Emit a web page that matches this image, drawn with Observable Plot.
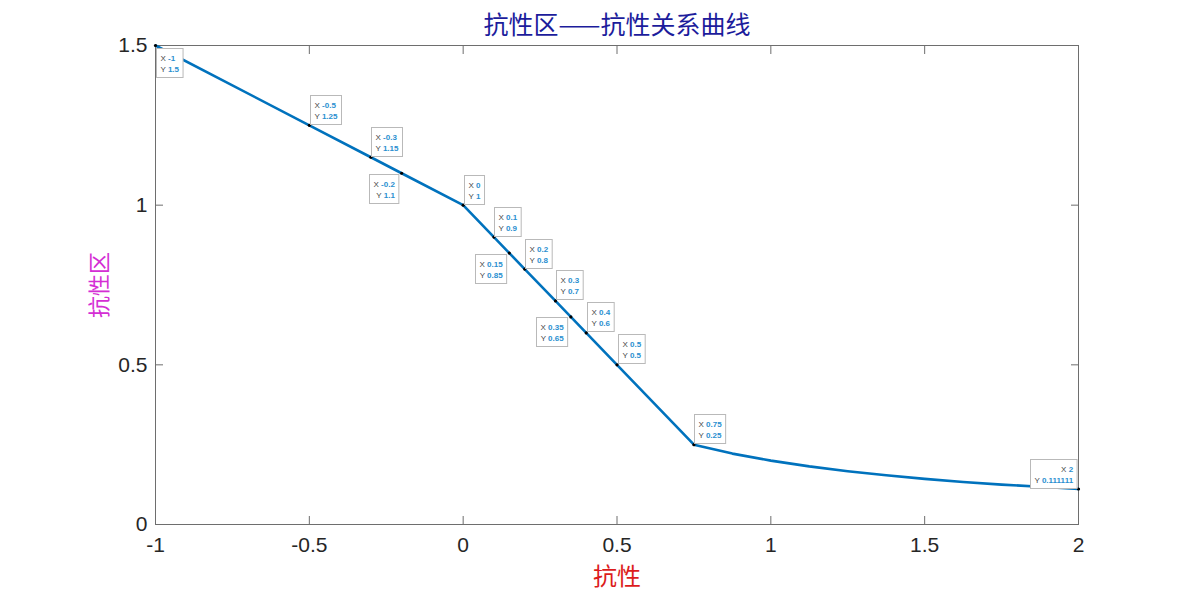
<!DOCTYPE html>
<html><head><meta charset="utf-8">
<script src="https://cdn.jsdelivr.net/npm/d3@7"></script>
<script src="https://cdn.jsdelivr.net/npm/@observablehq/plot@0.6"></script>
<style>body{margin:0;background:#fff}</style>
</head><body><div id="chart"></div>
<script>
// ---- data ----
const lineX = [-1, -0.5, -0.3, -0.2, 0, 0.1, 0.15, 0.2, 0.3, 0.35, 0.4, 0.5, 0.75,
               0.875, 1, 1.125, 1.25, 1.375, 1.5, 1.625, 1.75, 1.875, 2];
const lineY = [1.5, 1.25, 1.15, 1.1, 1, 0.9, 0.85, 0.8, 0.7, 0.65, 0.6, 0.5, 0.25,
               0.222, 0.2, 0.182, 0.167, 0.154, 0.143, 0.133, 0.125, 0.118, 0.111111];
const tipX = [-1, -0.5, -0.3, -0.2, 0, 0.1, 0.15, 0.2, 0.3, 0.35, 0.4, 0.5, 0.75, 2];
const tipY = [1.5, 1.25, 1.15, 1.1, 1, 0.9, 0.85, 0.8, 0.7, 0.65, 0.6, 0.5, 0.25, 0.111111];
const tipXText = ["-1", "-0.5", "-0.3", "-0.2", "0", "0.1", "0.15", "0.2", "0.3", "0.35", "0.4", "0.5", "0.75", "2"];
const tipYText = ["1.5", "1.25", "1.15", "1.1", "1", "0.9", "0.85", "0.8", "0.7", "0.65", "0.6", "0.5", "0.25", "0.111111"];
const xTicks = [-1, -0.5, 0, 0.5, 1, 1.5, 2];
const yTicks = [0, 0.5, 1, 1.5];
const titleText = "抗性区——抗性关系曲线";
const xLabel = "抗性";
const yLabel = "抗性区";

// ---- build ----
const linePts = lineX.map((x, i) => ({x, y: lineY[i]}));
const tips = tipX.map((x, i) => ({x, y: tipY[i], xt: tipXText[i], yt: tipYText[i]}));
const placement = {"-1": "se", "-0.2": "sw", "0.15": "sw", "0.35": "sw", "2": "nw"};

const fmt = d => String(d);
const axisColor = "#6e6e6e";
const tickText = "#262626";
const cjk = "'Noto Sans CJK SC', sans-serif";

const chart = Plot.plot({
  width: 1192, height: 592,
  marginLeft: 155, marginRight: 114, marginTop: 45, marginBottom: 68,
  style: {fontFamily: "'Liberation Sans', Arial, sans-serif", fontSize: "21px", background: "#fff", color: tickText},
  x: {domain: [-1, 2]},
  y: {domain: [0, 1.5]},
  marks: [
    Plot.frame({stroke: axisColor}),
    Plot.axisX({anchor: "bottom", ticks: xTicks, tickFormat: fmt, tickSize: -8, tickPadding: 21, stroke: axisColor, fill: tickText, fontSize: 21, label: null}),
    Plot.axisX({anchor: "top", ticks: xTicks, tickFormat: () => "", tickSize: -8, stroke: axisColor, label: null}),
    Plot.axisY({anchor: "left", ticks: yTicks, tickFormat: fmt, tickSize: -8, tickPadding: 16, stroke: axisColor, fill: tickText, fontSize: 21, label: null}),
    Plot.axisY({anchor: "right", ticks: yTicks, tickFormat: () => "", tickSize: -8, stroke: axisColor, label: null}),
    Plot.line(linePts, {x: "x", y: "y", stroke: "#0072BD", strokeWidth: 2.6}),
    Plot.dot(tips, {x: "x", y: "y", r: 1.6, fill: "#000"}),
    Plot.text([titleText], {text: d => d, frameAnchor: "top", lineAnchor: "middle", textAnchor: "middle", dy: -20, fill: "#1c1c9c", fontSize: 25, fontFamily: cjk}),
    Plot.text([xLabel], {text: d => d, frameAnchor: "bottom", lineAnchor: "middle", textAnchor: "middle", dy: 53, fill: "#dc1c1c", fontSize: 24, fontFamily: cjk}),
    Plot.text([yLabel], {text: d => d, frameAnchor: "left", lineAnchor: "middle", textAnchor: "middle", dx: -56, rotate: -90, fill: "#d42ed4", fontSize: 22, fontFamily: cjk})
  ]
});
document.getElementById("chart").append(chart);

// ---- data tips (positioned with the plot's own scales) ----
const X = Plot.scale({x: chart.scale("x")});
const Y = Plot.scale({y: chart.scale("y")});
const svg = d3.select(chart);
const gTips = svg.append("g")
  .attr("font-family", "'Liberation Sans', Arial, sans-serif")
  .attr("font-size", 8)
  .attr("text-anchor", "start");
const padX = 4, boxH = 29;
tips.forEach(t => {
  const px = X.apply(t.x), py = Y.apply(t.y);
  const place = placement[String(t.x)] || "ne";
  const g = gTips.append("g");
  const rect = g.append("rect").attr("fill", "#fff").attr("stroke", "#b9b9b9").attr("stroke-width", 1);
  const lines = [["X ", t.xt], ["Y ", t.yt]].map(([k, v], i) => {
    const tx = g.append("text").attr("y", 12.5 + i * 11).attr("text-anchor", "start");
    tx.append("tspan").attr("fill", "#454545").text(k);
    tx.append("tspan").attr("fill", "#2a8fd0").attr("font-weight", "bold").text(v);
    return tx;
  });
  const w = Math.max(...lines.map(l => l.node().getComputedTextLength())) + 2 * padX;
  const right = place === "sw" || place === "nw";
  lines.forEach(l => {
    if (right) l.attr("x", w - padX + 0.5).attr("text-anchor", "end");
    else l.attr("x", padX + 0.5);
  });
  rect.attr("x", 0.5).attr("y", 0.5).attr("width", w).attr("height", boxH);
  let bx, by;
  if (place === "ne") { bx = px + 1; by = py - boxH - 1; }
  else if (place === "sw") { bx = px - w - 3; by = py + 1; }
  else if (place === "se") { bx = px + 1; by = py + 3; }
  else { bx = px - w - 1; by = py - boxH - 1; }
  g.attr("transform", `translate(${Math.round(bx)},${Math.round(by)})`);
});
</script>
</body></html>
